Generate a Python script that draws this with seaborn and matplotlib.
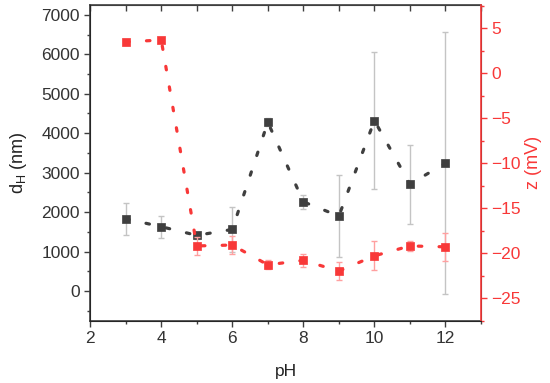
import matplotlib
matplotlib.use("Agg")
import matplotlib.pyplot as plt
from matplotlib.ticker import MultipleLocator
import numpy as np
import seaborn as sns

# data
ph = [3, 4, 5, 6, 7, 8, 9, 10, 11, 12]
dh = [1830, 1630, 1410, 1560, 4280, 2260, 1900, 4320, 2710, 3240]
dh_err = [400, 280, 80, 570, 100, 170, 1030, 1735, 1000, 3320]
zeta = [3.5, 3.7, -19.2, -19.1, -21.3, -20.8, -22.0, -20.3, -19.2, -19.3]
zeta_err = [0.3, 0.2, 1.0, 1.0, 0.5, 0.7, 1.0, 1.6, 0.6, 1.55]

dark = "#3f3f3f"
red = "#f83838"

sns.set_style("ticks")
plt.rcParams["font.family"] = ["Liberation Sans", "DejaVu Sans"]
plt.rcParams["mathtext.fontset"] = "custom"
plt.rcParams["mathtext.rm"] = "Liberation Sans"

fig, ax = plt.subplots(figsize=(5.5, 3.83), dpi=100)
fig.subplots_adjust(left=0.164, right=0.8745, top=0.987, bottom=0.163)

dot = dict(linestyle=(0, (1.1, 5.4)), linewidth=2.3, dash_capstyle="round")

# d_H series
ax.errorbar(ph, dh, yerr=dh_err, fmt="none", ecolor="#c4c4c4", elinewidth=1,
            capsize=2.5, capthick=1, zorder=1)
sns.lineplot(x=ph, y=dh, ax=ax, color=dark, **dot, zorder=2)
sns.scatterplot(x=ph, y=dh, ax=ax, marker="s", s=30, color=dark,
                edgecolor=dark, linewidth=0.5, zorder=3)

ax.set_xlim(2, 13)
ax.set_ylim(-750, 7250)
ax.xaxis.set_major_locator(MultipleLocator(2))
ax.xaxis.set_minor_locator(MultipleLocator(1))
ax.yaxis.set_major_locator(MultipleLocator(1000))
ax.yaxis.set_minor_locator(MultipleLocator(500))
ax.tick_params(which="both", direction="out", colors=dark, labelsize=12.5,
               labelcolor="#333333")
ax.tick_params(which="major", length=4, width=1)
ax.tick_params(which="minor", length=2.5, width=1)
for s in ["left", "bottom", "top"]:
    ax.spines[s].set_color(dark)
    ax.spines[s].set_linewidth(1.2)
ax.set_xlabel("pH", fontsize=12.5, color="#222222", labelpad=13)
ax.set_ylabel(r"d$_{\mathregular{H}}$ (nm)", fontsize=13, color="#222222", labelpad=9)

top = ax.secondary_xaxis("top")
top.xaxis.set_major_locator(MultipleLocator(1))
top.tick_params(direction="in", length=4, width=1, colors=dark, labeltop=False)
top.spines["top"].set_color(dark)

# zeta potential series
ax2 = ax.twinx()
ax2.errorbar(ph, zeta, yerr=zeta_err, fmt="none", ecolor="#ffa0a0", elinewidth=1,
             capsize=2.5, capthick=1, zorder=1)
sns.lineplot(x=ph, y=zeta, ax=ax2, color=red, **dot, zorder=2)
sns.scatterplot(x=ph, y=zeta, ax=ax2, marker="s", s=30, color=red,
                edgecolor=red, linewidth=0.5, zorder=3)
ax2.set_ylim(-27.5, 7.6)
ax2.yaxis.set_major_locator(MultipleLocator(5))
ax2.yaxis.set_minor_locator(MultipleLocator(2.5))
ax2.tick_params(which="both", direction="out", colors=red, labelsize=12.5,
                labelcolor=red)
ax2.tick_params(which="major", length=4, width=1)
ax2.tick_params(which="minor", length=2.5, width=1)
ax2.spines["right"].set_color(red)
ax2.spines["right"].set_linewidth(1.2)
ax2.spines["top"].set_visible(False)
ax2.set_ylabel("z (mV)", fontsize=13, color=red, labelpad=3)

fig.savefig("out.png", dpi=100)
